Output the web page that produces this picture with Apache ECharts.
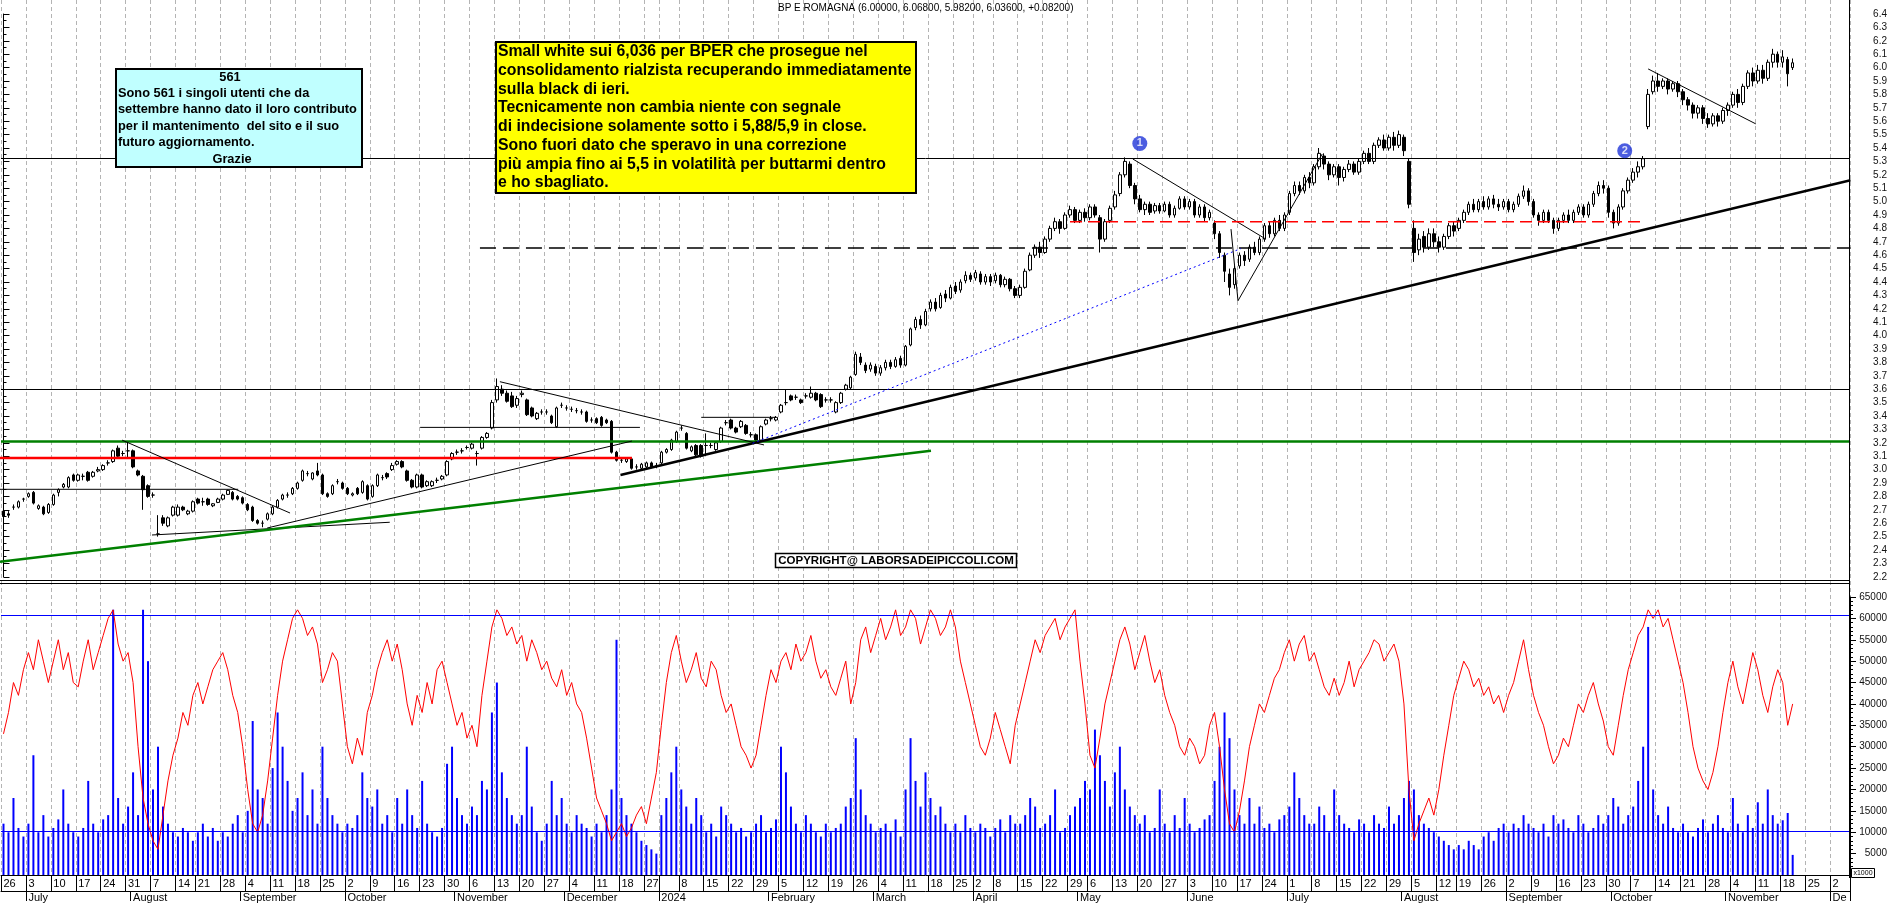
<!DOCTYPE html>
<html><head><meta charset="utf-8">
<script src="https://cdn.jsdelivr.net/npm/echarts@6/dist/echarts.min.js"></script>
<style>html,body{margin:0;padding:0;background:#fff;}#c{width:1890px;height:903px;}</style>
</head><body><div id="c"></div>
<script>
// ---------- calendar ----------
const holidays = ['2023-08-15','2023-12-25','2023-12-26','2024-01-01','2024-03-29','2024-04-01','2024-05-01','2024-08-15'];
const hiddenDayLabels = ['2024-01-02'];
const monthNames = ['January','February','March','April','May','June','July','August','September','October','November','December'];
const titleText = 'BP E ROMAGNA (6.00000, 6.06800, 5.98200, 6.03600, +0.08200)';

// ---------- price data [open, close, low, high] ----------
const candles = [
[2.69,2.65,2.55,2.70],[2.67,2.66,2.64,2.69],[2.72,2.72,2.70,2.74],[2.72,2.76,2.71,2.77],[2.78,2.78,2.76,2.79],
[2.80,2.82,2.79,2.83],[2.83,2.75,2.74,2.84],[2.71,2.73,2.70,2.74],[2.72,2.67,2.66,2.73],[2.68,2.74,2.67,2.75],
[2.74,2.81,2.73,2.82],[2.83,2.85,2.80,2.86],[2.87,2.89,2.86,2.90],[2.87,2.94,2.86,2.95],[2.96,2.92,2.91,2.97],
[2.92,2.96,2.91,2.97],[2.95,2.95,2.92,2.97],[2.98,2.92,2.91,2.99],[2.95,2.98,2.94,2.99],[2.99,3.00,2.98,3.02],
[3.00,3.03,2.99,3.04],[3.05,3.05,3.03,3.07],[3.06,3.14,3.05,3.15],[3.16,3.10,3.09,3.18],[3.12,3.12,3.10,3.14],
[3.14,3.14,3.09,3.21],[3.14,3.02,3.01,3.15],[2.99,2.96,2.95,3.00],[2.95,2.85,2.70,2.96],[2.88,2.80,2.79,2.89],
[2.81,2.81,2.79,2.83],[2.52,2.52,2.50,2.66],[2.64,2.60,2.58,2.66],[2.58,2.64,2.57,2.65],[2.66,2.72,2.65,2.73],
[2.66,2.72,2.65,2.74],[2.72,2.70,2.69,2.73],[2.67,2.69,2.66,2.70],[2.69,2.76,2.68,2.77],
[2.78,2.75,2.74,2.79],[2.76,2.76,2.73,2.79],[2.78,2.74,2.73,2.79],[2.73,2.745,2.72,2.75],[2.755,2.78,2.75,2.79],
[2.78,2.81,2.77,2.82],[2.815,2.845,2.81,2.85],[2.83,2.78,2.77,2.84],[2.80,2.78,2.77,2.81],[2.79,2.75,2.74,2.80],
[2.74,2.70,2.69,2.75],[2.72,2.62,2.61,2.73],[2.62,2.60,2.59,2.63],[2.60,2.60,2.57,2.62],[2.63,2.67,2.62,2.68],
[2.67,2.72,2.66,2.73],[2.72,2.77,2.71,2.78],[2.78,2.81,2.77,2.82],[2.81,2.81,2.79,2.83],[2.82,2.86,2.81,2.87],
[2.86,2.90,2.85,2.91],[2.92,2.99,2.91,3.00],[2.97,2.97,2.95,2.99],[2.93,2.975,2.92,2.98],[2.99,2.96,2.95,3.05],
[2.96,2.82,2.81,2.97],[2.82,2.80,2.79,2.83],[2.82,2.88,2.81,2.89],[2.91,2.91,2.89,2.93],[2.90,2.86,2.85,2.91],
[2.86,2.82,2.81,2.87],[2.81,2.82,2.80,2.83],[2.86,2.82,2.81,2.87],[2.83,2.91,2.82,2.92],[2.88,2.78,2.77,2.89],
[2.80,2.88,2.79,2.89],[2.88,2.96,2.87,2.97],[2.94,2.94,2.92,2.96],[2.97,2.945,2.93,2.98],[3.00,3.03,2.99,3.05],
[3.04,3.06,3.03,3.07],[3.06,3.02,3.01,3.07],[2.99,2.92,2.91,3.00],[2.92,2.87,2.86,2.93],[2.87,2.96,2.86,2.97],
[2.96,2.87,2.86,2.97],[2.88,2.91,2.87,2.92],[2.88,2.91,2.87,2.92],[2.92,2.92,2.90,2.94],[2.93,2.95,2.92,2.96],
[2.96,3.06,2.95,3.07],[3.08,3.12,3.07,3.13],[3.13,3.13,3.11,3.15],[3.14,3.14,3.12,3.16],[3.165,3.165,3.15,3.18],
[3.16,3.19,3.15,3.20],[3.12,3.12,3.03,3.14],[3.16,3.24,3.15,3.25],[3.24,3.27,3.23,3.28],[3.31,3.50,3.30,3.52],
[3.52,3.62,3.50,3.68],[3.60,3.57,3.55,3.63],[3.57,3.51,3.50,3.59],[3.55,3.47,3.46,3.58],[3.48,3.53,3.46,3.55],
[3.56,3.57,3.54,3.59],[3.52,3.41,3.40,3.53],[3.46,3.40,3.39,3.47],[3.38,3.42,3.37,3.43],[3.43,3.43,3.41,3.45],
[3.43,3.43,3.41,3.45],[3.40,3.35,3.34,3.41],[3.32,3.46,3.31,3.47],[3.48,3.48,3.46,3.50],[3.46,3.46,3.44,3.48],
[3.45,3.45,3.43,3.47],[3.44,3.44,3.42,3.46],[3.43,3.43,3.41,3.45],[3.43,3.36,3.35,3.44],[3.37,3.37,3.35,3.39],
[3.38,3.35,3.34,3.39],[3.39,3.33,3.32,3.40],[3.37,3.35,3.34,3.38],[3.36,3.13,3.12,3.37],[3.13,3.07,3.06,3.14],
[3.07,3.07,3.05,3.09],[3.06,3.08,3.05,3.09],[3.08,3.01,3.00,3.09],[3.02,3.02,3.00,3.04],[3.01,3.04,3.00,3.05],
[3.02,3.05,3.01,3.06],[3.05,3.02,3.01,3.06],[3.03,3.03,3.01,3.05],
[3.05,3.13,3.04,3.14],[3.13,3.15,3.12,3.16],[3.15,3.22,3.14,3.23],[3.21,3.28,3.20,3.29],
[3.31,3.31,3.29,3.33],[3.27,3.16,3.15,3.28],[3.14,3.17,3.13,3.18],[3.18,3.11,3.10,3.19],[3.18,3.10,3.09,3.19],
[3.18,3.18,3.10,3.27],[3.18,3.18,3.16,3.20],[3.15,3.20,3.14,3.21],[3.21,3.31,3.20,3.32],[3.35,3.35,3.33,3.37],
[3.37,3.31,3.30,3.38],[3.31,3.28,3.27,3.32],[3.32,3.36,3.31,3.37],[3.33,3.27,3.26,3.34],[3.26,3.26,3.24,3.28],
[3.26,3.22,3.21,3.27],[3.22,3.32,3.21,3.33],[3.34,3.37,3.33,3.38],[3.38,3.38,3.36,3.40],[3.37,3.39,3.36,3.40],
[3.43,3.48,3.42,3.49],[3.50,3.50,3.48,3.60],[3.55,3.52,3.51,3.56],[3.54,3.54,3.52,3.56],[3.52,3.50,3.49,3.53],
[3.55,3.55,3.53,3.57],[3.54,3.57,3.53,3.62],[3.57,3.52,3.51,3.58],[3.56,3.47,3.46,3.57],[3.52,3.52,3.50,3.54],
[3.52,3.52,3.50,3.54],[3.43,3.50,3.42,3.51],[3.50,3.57,3.49,3.58],[3.60,3.63,3.59,3.64],[3.61,3.69,3.60,3.70],
[3.71,3.86,3.70,3.88],[3.84,3.80,3.78,3.87],[3.78,3.74,3.72,3.80],[3.75,3.78,3.73,3.80],[3.77,3.72,3.70,3.79],
[3.72,3.76,3.70,3.78],[3.76,3.80,3.74,3.82],[3.80,3.77,3.75,3.82],[3.77,3.82,3.76,3.84],[3.83,3.78,3.76,3.85],
[3.78,3.92,3.77,3.93],[3.93,4.05,3.92,4.06],[4.06,4.12,4.04,4.14],[4.12,4.08,4.05,4.15],[4.08,4.18,4.07,4.20],
[4.20,4.25,4.18,4.27],[4.25,4.20,4.18,4.28],[4.21,4.30,4.20,4.32],[4.31,4.28,4.25,4.34],[4.28,4.36,4.27,4.38],
[4.37,4.33,4.31,4.40],[4.34,4.40,4.32,4.42],[4.41,4.45,4.39,4.48],[4.45,4.42,4.40,4.47],
[4.43,4.47,4.41,4.49],[4.46,4.40,4.38,4.48],[4.40,4.44,4.38,4.46],[4.44,4.40,4.37,4.46],
[4.41,4.45,4.39,4.47],[4.45,4.38,4.36,4.46],[4.38,4.42,4.36,4.44],[4.42,4.35,4.33,4.43],[4.35,4.30,4.28,4.37],
[4.30,4.36,4.28,4.38],[4.36,4.48,4.35,4.50],[4.49,4.60,4.48,4.62],[4.60,4.66,4.58,4.68],[4.66,4.62,4.58,4.70],
[4.62,4.72,4.61,4.74],[4.72,4.80,4.70,4.82],[4.80,4.85,4.78,4.88],[4.85,4.80,4.76,4.87],[4.80,4.90,4.79,4.92],
[4.90,4.94,4.88,4.97],[4.94,4.86,4.84,4.96],[4.86,4.92,4.84,4.94],[4.92,4.88,4.85,4.95],
[4.88,4.96,4.86,4.98],[4.96,4.90,4.88,4.98],[4.88,4.72,4.62,4.90],[4.72,4.85,4.70,4.87],[4.86,4.95,4.84,4.97],
[4.96,5.05,4.94,5.08],[5.06,5.20,5.04,5.22],[5.20,5.30,5.18,5.33],[5.28,5.12,5.10,5.30],[5.12,5.02,4.98,5.14],
[5.02,4.94,4.92,5.05],[4.94,4.98,4.90,5.00],[4.98,4.92,4.90,5.00],[4.93,4.97,4.91,4.99],[4.97,4.93,4.91,4.99],
[4.93,4.98,4.92,5.00],[4.98,4.90,4.88,5.00],[4.90,4.95,4.88,4.97],[4.95,5.02,4.94,5.04],[5.02,4.96,4.94,5.04],
[4.96,5.00,4.94,5.02],[5.00,4.90,4.88,5.02],[4.90,4.96,4.88,4.98],[4.96,4.88,4.85,4.98],[4.88,4.92,4.86,4.94],
[4.84,4.76,4.72,4.86],[4.76,4.62,4.58,4.78],[4.60,4.48,4.40,4.62],[4.46,4.36,4.30,4.50],[4.38,4.50,4.35,4.52],
[4.52,4.60,4.50,4.62],[4.60,4.56,4.52,4.63],[4.57,4.66,4.55,4.68],[4.66,4.62,4.60,4.70],[4.62,4.72,4.60,4.74],
[4.72,4.82,4.70,4.84],[4.82,4.76,4.73,4.85],[4.76,4.86,4.74,4.88],[4.86,4.80,4.78,4.90],[4.80,4.90,4.78,4.92],
[4.92,5.06,4.90,5.08],[5.06,5.12,5.04,5.15],[5.12,5.08,5.05,5.15],[5.08,5.18,5.06,5.20],[5.18,5.14,5.10,5.22],
[5.14,5.26,5.12,5.28],[5.26,5.36,5.24,5.40],[5.34,5.28,5.24,5.36],[5.28,5.20,5.16,5.30],[5.20,5.26,5.18,5.28],
[5.26,5.18,5.12,5.28],[5.18,5.24,5.15,5.26],[5.24,5.28,5.22,5.31],[5.28,5.22,5.20,5.30],[5.22,5.30,5.20,5.32],
[5.30,5.36,5.28,5.38],[5.36,5.30,5.28,5.40],[5.30,5.42,5.28,5.44],[5.42,5.46,5.40,5.48],[5.46,5.40,5.38,5.50],
[5.40,5.48,5.38,5.50],[5.48,5.42,5.38,5.52],[5.42,5.50,5.40,5.53],[5.48,5.38,5.34,5.50],[5.30,4.98,4.95,5.32],
[4.80,4.62,4.55,4.86],[4.64,4.72,4.60,4.76],[4.74,4.66,4.62,4.78],[4.66,4.76,4.64,4.80],[4.76,4.70,4.66,4.80],
[4.70,4.66,4.62,4.74],[4.66,4.74,4.64,4.76],[4.74,4.82,4.72,4.84],[4.82,4.78,4.74,4.85],
[4.80,4.86,4.78,4.88],[4.86,4.92,4.84,4.94],[4.92,4.98,4.90,5.00],[4.98,4.94,4.92,5.02],[4.94,5.00,4.92,5.02],
[5.00,4.96,4.94,5.04],[4.96,5.02,4.94,5.04],[5.02,4.98,4.95,5.05],[4.98,4.96,4.93,5.02],[4.96,5.00,4.94,5.02],
[5.00,4.94,4.92,5.02],[4.94,4.98,4.92,5.00],[4.98,5.04,4.96,5.06],[5.04,5.08,5.02,5.12],[5.08,5.00,4.97,5.10],
[5.00,4.90,4.88,5.02],[4.90,4.86,4.82,4.92],[4.86,4.92,4.84,4.94],[4.92,4.86,4.84,4.94],[4.86,4.80,4.76,4.88],
[4.80,4.86,4.78,4.88],[4.86,4.90,4.84,4.92],[4.90,4.86,4.84,4.94],[4.86,4.92,4.84,4.94],[4.92,4.96,4.90,4.98],
[4.96,4.90,4.88,4.98],[4.90,4.98,4.88,5.00],[4.98,5.06,4.96,5.08],[5.06,5.12,5.04,5.15],[5.12,5.10,5.06,5.16],
[5.10,4.92,4.88,5.12],[4.92,4.84,4.80,4.94],[4.84,4.96,4.82,4.98],[4.96,5.08,4.94,5.10],[5.08,5.16,5.06,5.18],
[5.16,5.22,5.14,5.25],[5.22,5.26,5.18,5.30],[5.26,5.32,5.24,5.34],[5.56,5.80,5.54,5.84],[5.82,5.90,5.80,5.94],
[5.90,5.86,5.82,5.96],[5.86,5.90,5.84,5.92],[5.90,5.84,5.80,5.92],[5.84,5.88,5.82,5.90],[5.88,5.82,5.78,5.90],
[5.82,5.76,5.72,5.84],[5.76,5.72,5.68,5.78],[5.72,5.66,5.62,5.74],[5.66,5.70,5.62,5.72],[5.70,5.62,5.58,5.72],
[5.62,5.58,5.55,5.66],[5.58,5.64,5.56,5.66],[5.64,5.60,5.56,5.66],[5.60,5.68,5.58,5.70],[5.68,5.72,5.64,5.74],
[5.72,5.80,5.70,5.82],[5.80,5.74,5.70,5.84],[5.74,5.86,5.72,5.88],[5.86,5.96,5.84,5.98],[5.96,5.90,5.86,6.00],
[5.90,5.98,5.88,6.02],[5.98,5.92,5.88,6.02],[5.92,6.04,5.90,6.06],[6.04,6.10,6.00,6.14],[6.10,6.04,6.00,6.12],
[6.04,6.08,6.00,6.13],[6.06,5.954,5.86,6.08],[6.00,6.036,5.982,6.068]
];

// ---------- volume (axis units) ----------
const volume = [
12000,10000,18000,11000,9000, 12000,28000,10000,14000,9000, 11000,13000,20000,12000,10000, 9000,11000,22000,12000,10000,
13000,14000,62000,18000,12000, 16000,24000,14000,62000,50000, 20000,30000,16000,12000,10000, 9000,11000,10000,8000,
10000,12000,9000,11000,8000, 10000,9000,12000,14000,10000, 15000,36000,20000,18000,12000, 25000,38000,30000,22000,15000,
18000,24000,14000,20000,12000, 30000,18000,14000,12000,10000, 12000,11000,14000,24000,18000, 16000,20000,12000,14000,10000,
18000,12000,20000,14000,11000, 22000,12000,10000,9000,11000, 26000,30000,18000,14000,12000, 16000,14000,22000,20000,38000,
45000,24000,18000,14000,12000, 14000,30000,16000,10000,8000, 12000,22000,14000,18000,12000, 10000,14000,12000,11000,9000,
12000,10000,14000,20000,55000, 18000,14000,12000,10000,8000, 7000,6000,5000, 14000,18000,24000,30000,
20000,16000,12000,18000,14000, 10000,12000,9000,16000,14000, 12000,10000,11000,9000,10000, 12000,14000,10000,11000,13000,
30000,24000,16000,12000,10000, 14000,12000,10000,9000,12000, 10000,11000,12000,16000,18000, 32000,20000,14000,12000,10000,
11000,12000,10000,13000,9000, 20000,32000,22000,16000,24000, 18000,14000,16000,12000,10000, 12000,10000,14000,11000,
10000,12000,11000,9000, 11000,13000,10000,14000,12000, 12000,14000,18000,16000,11000, 12000,14000,20000,10000,11000,
14000,16000,18000,22000, 20000,34000,28000,22000,16000, 24000,30000,20000,16000,14000, 12000,14000,10000,11000,20000,
12000,10000,14000,11000,18000, 12000,10000,11000,13000,14000, 22000,30000,38000,32000,20000, 14000,12000,18000,12000,16000,
11000,12000,10000,13000,14000, 16000,24000,18000,14000,12000, 12000,16000,14000,10000,20000, 14000,12000,11000,10000,13000,
12000,10000,14000,12000,11000, 16000,12000,14000,18000,22000, 20000,14000,12000,11000,10000, 9000,8000,7000,6000,
7000,6000,8000,7000,6000, 9000,10000,8000,11000,12000, 10000,12000,11000,14000,12000, 11000,10000,12000,9000,14000,
12000,13000,11000,10000,14000, 12000,10000,11000,14000,12000, 14000,18000,16000,12000,14000, 16000,22000,30000,58000,20000,
14000,12000,16000,11000,10000, 12000,10000,9000,11000,13000, 10000,12000,14000,11000,10000, 18000,12000,10000,14000,11000,
17000,12000,20000,14000,12000, 12800,14500,4700
];

// ---------- oscillator (red line, same axis units) ----------
const oscillator = [
33000,38000,45000,42000,48000, 52000,48000,55000,50000,45000, 50000,55000,48000,52000,45000, 44000,50000,55000,48000,52000,
56000,60000,62000,54000,50000, 52000,45000,30000,18000,12000, 8000,6000,14000,22000,28000, 32000,38000,35000,42000,
45000,40000,44000,48000,50000, 52000,48000,42000,38000,30000, 20000,12000,10000,14000,22000, 32000,42000,50000,55000,60000,
62000,60000,56000,58000,54000, 45000,48000,52000,50000,40000, 30000,26000,32000,28000,38000, 42000,48000,52000,55000,50000,
54000,48000,40000,35000,42000, 38000,45000,40000,48000,50000, 45000,40000,35000,38000,32000, 35000,30000,42000,50000,58000,
62000,60000,56000,58000,54000, 56000,50000,55000,52000,48000, 50000,46000,44000,48000,42000, 45000,40000,38000,32000,25000,
18000,15000,12000,8000,10000, 12000,9000,11000,14000,16000, 12000,18000,24000, 35000,45000,52000,56000,
50000,45000,48000,52000,46000, 44000,50000,48000,42000,38000, 40000,35000,30000,28000,25000, 28000,35000,42000,48000,45000,
50000,52000,48000,54000,50000, 52000,56000,50000,46000,48000, 44000,42000,46000,50000,40000, 45000,55000,58000,52000,56000,
60000,55000,58000,62000,56000, 58000,62000,60000,54000,58000, 62000,60000,56000,58000,62000, 58000,50000,45000,40000,
35000,30000,28000,32000, 38000,34000,30000,26000,35000, 40000,45000,50000,55000,52000, 56000,58000,60000,55000,58000,
60000,62000,50000,40000, 28000,25000,32000,40000,45000, 50000,55000,58000,54000,48000, 52000,56000,50000,45000,48000,
42000,38000,35000,30000,28000, 32000,30000,26000,28000,35000, 38000,30000,20000,12000,10000, 15000,22000,30000,35000,40000,
38000,42000,46000,48000,52000, 55000,50000,54000,56000,50000, 52000,48000,44000,42000,46000, 42000,45000,50000,44000,48000,
50000,52000,55000,54000,50000, 52000,54000,50000,40000,20000, 8000,12000,15000,18000,14000, 20000,28000,35000,42000,
46000,50000,48000,44000,46000, 42000,44000,40000,42000,38000, 42000,45000,50000,55000,48000, 42000,38000,35000,30000,26000,
28000,32000,30000,35000,40000, 38000,42000,45000,40000,36000, 30000,28000,35000,42000,48000, 52000,56000,58000,62000,60000,
62000,58000,60000,55000,50000, 45000,38000,30000,25000,22000, 20000,24000,30000,38000,45000, 50000,44000,40000,46000,52000,
48000,42000,38000,44000,48000, 45000,35000,40000
];

// ---------- drawn studies: [x1(day index), price1, x2, price2, colour, width, dash] ----------
const studyLines = [
  [-0.7, 2.853, 47.1, 2.853, '#000000', 1, 'solid'],
  [-0.7, 3.087, 126.1, 3.087, '#ff0000', 2.5, 'solid'],
  [95.6, 4.654, 370.6, 4.654, '#000000', 1.5, [16, 7]],
  [23.8, 3.22, 57.5, 2.676, '#000000', 1, 'solid'],
  [29.8, 2.512, 77.5, 2.607, '#000000', 1, 'solid'],
  [52.9, 2.564, 126.1, 3.213, '#000000', 1, 'solid'],
  [99.6, 3.656, 152.6, 3.184, '#000000', 1, 'solid'],
  [83.6, 3.315, 127.7, 3.315, '#000000', 1, 'solid'],
  [140, 3.39, 155, 3.39, '#000000', 1, 'solid'],
  [123.8, 2.96, 370.6, 5.159, '#000000', 2.5, 'solid'],
  [-0.7, 2.313, 186.1, 3.141, '#008000', 2.5, 'solid'],
  [150.3, 3.196, 248.3, 4.65, '#0000ff', 1, [2, 3]],
  [226.6, 5.318, 253.3, 4.72, '#000000', 1, 'solid'],
  [246.3, 4.795, 247.7, 4.26, '#000000', 1, 'solid'],
  [247.7, 4.26, 264.6, 5.355, '#000000', 1, 'solid'],
  [214, 4.849, 329.4, 4.849, '#ff0000', 1.5, [12, 6]],
  [330, 5.99, 351.6, 5.58, '#000000', 1, 'solid']
];
const levelLines = [[3.208, '#008000', 2.5], [3.60, '#000000', 1], [5.32, '#000000', 1]];
const oscLevels = [60800, 10250];
const markers = [[228.0, 5.434, '1'], [325.3, 5.38, '2']];

// ---------- build categories ----------
function buildDays() {
  const out = []; let t = Date.UTC(2023, 5, 26); const end = Date.UTC(2024, 11, 5);
  while (t <= end) {
    const d = new Date(t), wd = d.getUTCDay(), s = d.toISOString().slice(0, 10);
    if (wd !== 0 && wd !== 6 && holidays.indexOf(s) < 0) out.push(s);
    t += 86400000;
  }
  return out;
}
const days = buildDays();
const N = days.length;
function mondayKey(s) { const t = Date.parse(s + 'T00:00:00Z'); const wd = new Date(t).getUTCDay(); return t - ((wd + 6) % 7) * 86400000; }
const weekStart = days.map((d, i) => i === 0 || mondayKey(d) !== mondayKey(days[i - 1]));
const monthStart = days.map((d, i) => i > 0 && d.slice(0, 7) !== days[i - 1].slice(0, 7));
const monthLabel = s => {
  const m = +s.slice(5, 7);
  if (m === 1) return s.slice(0, 4);
  if (s.slice(0, 7) === '2024-12') return 'De';
  return monthNames[m - 1];
};

const FONT = '"Liberation Sans", Arial, sans-serif';
const GL = 1, GR = 40;

const series = [];
series.push({
  type: 'candlestick', xAxisIndex: 0, yAxisIndex: 0, data: candles, barWidth: 3,
  itemStyle: { color: '#ffffff', color0: '#000000', borderColor: '#000000', borderColor0: '#000000', borderWidth: 1 },
  markLine: { silent: true, symbol: ['none', 'none'], label: { show: false }, animation: false,
    data: levelLines.map(l => ({ yAxis: l[0], lineStyle: { color: l[1], width: l[2], type: 'solid' } })) },
  z: 3
});
studyLines.forEach(s => series.push({
  type: 'line', xAxisIndex: 3, yAxisIndex: 0, data: [[s[0], s[1]], [s[2], s[3]]],
  symbol: 'none', silent: true, lineStyle: { color: s[4], width: s[5], type: s[6] }, z: 5
}));
series.push({
  type: 'scatter', xAxisIndex: 3, yAxisIndex: 0, data: markers.map(m => [m[0], m[1], m[2]]),
  symbolSize: 15, itemStyle: { color: '#1f35d8' }, z: 6,
  label: { show: true, position: 'inside', formatter: p => p.data[2], color: '#fff', fontWeight: 'bold', fontSize: 11, fontFamily: FONT }
});
series.push({ type: 'bar', xAxisIndex: 1, yAxisIndex: 1, data: volume, barWidth: 2, itemStyle: { color: '#0000ff' }, z: 2 });
series.push({
  type: 'line', xAxisIndex: 1, yAxisIndex: 1, data: oscillator, symbol: 'none',
  lineStyle: { color: '#ff0000', width: 1 }, z: 3,
  markLine: { silent: true, symbol: ['none', 'none'], label: { show: false },
    data: oscLevels.map(v => ({ yAxis: v, lineStyle: { color: '#0000ff', width: 1, type: 'solid' } })) }
});

const boxText = (x, y, text, font, align) => ({ type: 'text', x, y, z: 101, style: { text, font, fill: '#000', align: align || 'left', verticalAlign: 'middle' } });
const cyanF = 'bold 12.8px ' + FONT, yelF = 'bold 15.8px ' + FONT;
const cyanLines = ['Sono 561 i singoli utenti che da', 'settembre hanno dato il loro contributo', 'per il mantenimento  del sito e il suo', 'futuro aggiornamento.'];
const yelLines = ['Small white sui 6,036 per BPER che prosegue nel', 'consolidamento rialzista recuperando immediatamente', 'sulla black di ieri.',
  'Tecnicamente non cambia niente con segnale', 'di indecisione solamente sotto i 5,88/5,9 in close.', 'Sono fuori dato che speravo in una correzione',
  'più ampia fino ai 5,5 in volatilità per buttarmi dentro', 'e ho sbagliato.'];

const graphic = [
  { type: 'line', shape: { x1: 1849.5, y1: 0, x2: 1849.5, y2: 878 }, style: { stroke: '#000', lineWidth: 1 }, z: 50 },
  { type: 'line', shape: { x1: 0, y1: 580.5, x2: 1850, y2: 580.5 }, style: { stroke: '#000', lineWidth: 1 }, z: 50 },
  { type: 'line', shape: { x1: 0, y1: 583.5, x2: 1850, y2: 583.5 }, style: { stroke: '#000', lineWidth: 1 }, z: 50 },
  { type: 'text', x: 778, y: 8.5, z: 50, style: { text: titleText, font: '10px ' + FONT, fill: '#000', verticalAlign: 'middle' } },
  { type: 'rect', shape: { x: 116, y: 69, width: 246, height: 98 }, style: { fill: '#c0ffff', stroke: '#000', lineWidth: 2 }, z: 100 },
  boxText(230, 77.5, '561', cyanF, 'center'),
  ...cyanLines.map((t, i) => boxText(118, 93.5 + i * 16.3, t, cyanF)),
  boxText(232, 159, 'Grazie', cyanF, 'center'),
  { type: 'rect', shape: { x: 496, y: 42, width: 420, height: 151 }, style: { fill: '#ffff00', stroke: '#000', lineWidth: 2 }, z: 100 },
  ...yelLines.map((t, i) => boxText(498, 52 + i * 18.7, t, yelF)),
  { type: 'rect', shape: { x: 775.5, y: 553.5, width: 241, height: 14 }, style: { fill: '#ffffff', stroke: '#000', lineWidth: 1.5 }, z: 100 },
  boxText(896, 561, 'COPYRIGHT@ LABORSADEIPICCOLI.COM', 'bold 11.5px ' + FONT, 'center'),
  { type: 'rect', shape: { x: 1851.5, y: 868.5, width: 23, height: 9 }, style: { fill: '#fff', stroke: '#000', lineWidth: 1 }, z: 50 },
  { type: 'text', x: 1863, y: 873, z: 51, style: { text: 'x1000', font: '7px ' + FONT, fill: '#000', align: 'center', verticalAlign: 'middle' } }
];

const hidden = { axisLine: { show: false }, axisTick: { show: false }, axisLabel: { show: false }, splitLine: { show: false } };
const option = {
  animation: false,
  backgroundColor: '#ffffff',
  textStyle: { fontFamily: FONT },
  grid: [
    { left: GL, right: GR, top: 14, height: 562.8 },
    { left: GL, right: GR, top: 597, height: 280.8 },
    { left: GL, right: GR, top: 0, height: 877.8 }
  ],
  xAxis: [
    Object.assign({ type: 'category', gridIndex: 0, data: days, boundaryGap: true }, hidden),
    { type: 'category', gridIndex: 1, data: days, boundaryGap: true, position: 'bottom',
      axisLine: { show: true, lineStyle: { color: '#000', width: 1 } },
      axisTick: { show: true, interval: i => weekStart[i], length: 16, lineStyle: { color: '#000' } },
      axisLabel: { show: true, interval: i => weekStart[i] && hiddenDayLabels.indexOf(days[i]) < 0, formatter: v => String(+v.slice(8, 10)),
        align: 'left', margin: 3, fontSize: 11, color: '#000', fontFamily: FONT },
      splitLine: { show: false } },
    { type: 'category', gridIndex: 1, data: days, boundaryGap: true, position: 'bottom', offset: 16,
      axisLine: { show: true, lineStyle: { color: '#000', width: 1 } },
      axisTick: { show: true, interval: i => monthStart[i], length: 10, lineStyle: { color: '#000' } },
      axisLabel: { show: true, interval: i => monthStart[i], formatter: v => monthLabel(v), align: 'left', margin: 1, fontSize: 11, color: '#000', fontFamily: FONT },
      splitLine: { show: false } },
    Object.assign({ type: 'value', gridIndex: 0, min: -0.5, max: N - 0.5 }, hidden),
    { type: 'category', gridIndex: 2, data: days, boundaryGap: true, axisLine: { show: false }, axisTick: { show: false }, axisLabel: { show: false },
      splitLine: { show: true, interval: i => weekStart[i], lineStyle: { color: '#b4b4b4', width: 1, type: [4, 3] } } }
  ],
  yAxis: [
    { type: 'value', gridIndex: 0, position: 'right', min: 2.2, max: 6.4, interval: 0.1, scale: true,
      axisLine: { show: true, lineStyle: { color: '#000' } },
      axisTick: { show: true, length: 6, lineStyle: { color: '#000' } },
      minorTick: { show: true, splitNumber: 2, length: 3, lineStyle: { color: '#000' } },
      axisLabel: { show: true, align: 'right', margin: 37, fontSize: 10, color: '#111', fontFamily: FONT, formatter: v => v.toFixed(1) },
      splitLine: { show: false } },
    { type: 'value', gridIndex: 1, position: 'right', min: 0, max: 65000, interval: 5000,
      axisLine: { show: true, lineStyle: { color: '#000' } },
      axisTick: { show: true, length: 6, lineStyle: { color: '#000' } },
      minorTick: { show: true, splitNumber: 5, length: 3, lineStyle: { color: '#000' } },
      axisLabel: { show: true, align: 'right', margin: 37, fontSize: 10, color: '#111', fontFamily: FONT, formatter: v => v === 0 ? '' : String(v) },
      splitLine: { show: false } },
    Object.assign({ type: 'value', gridIndex: 2, min: 0, max: 1 }, hidden)
  ],
  series,
  graphic
};
const chart = echarts.init(document.getElementById('c'), null, { renderer: 'canvas' });
chart.setOption(option);
</script>
</body></html>
